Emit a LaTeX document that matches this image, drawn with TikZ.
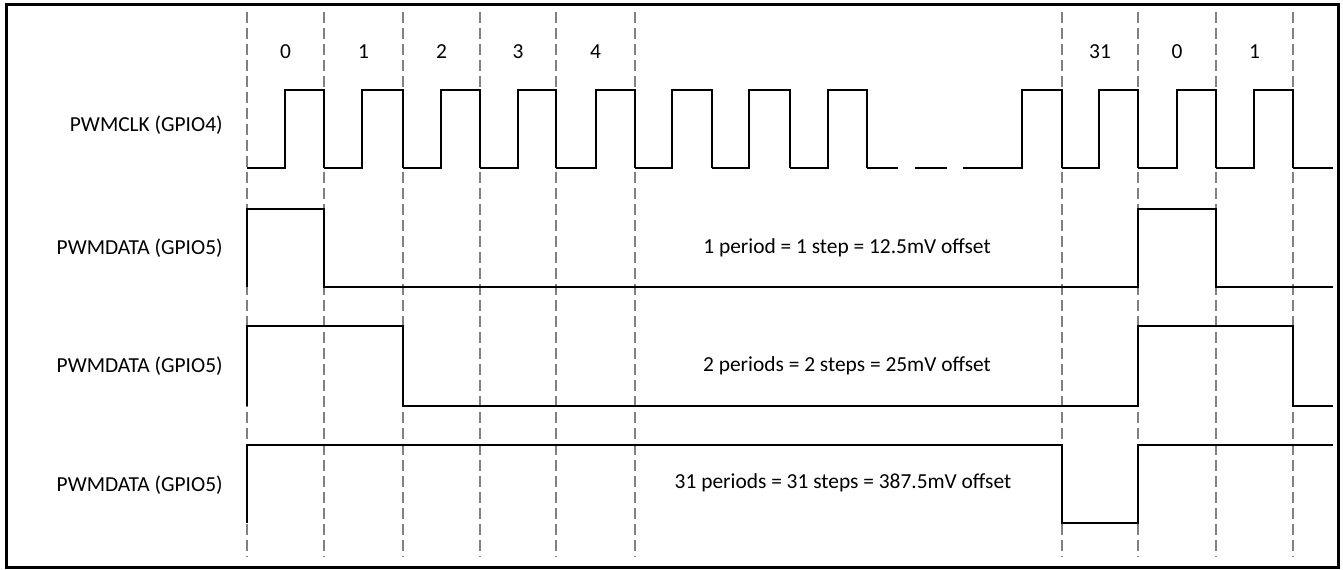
\documentclass[tikz,border=0pt]{standalone}
\usepackage{fontspec}
\setmainfont{Carlito}
\begin{document}
\begin{tikzpicture}[
        x=0.5pt, y=-0.5pt,
        font=\fontsize{10.7}{13}\selectfont,
        grid_line/.style={black!50, line width=0.7pt, dash pattern=on 5.3pt off 2.7pt},
        signal_line/.style={black, line width=1pt, line join=miter},
        sig_label/.style={anchor=east, inner sep=0pt},
        slot_label/.style={inner sep=0pt}
    ]
        \useasboundingbox (0,0) rectangle (1343,569);
        % Rahmen
        \draw[line width=1.5pt] (6.5,4.5) rectangle (1338,567);

        % Periodengrenzen
        \foreach \x in {247,324,403,480,556,635,1062,1138,1216,1293}
            \draw[grid_line] (\x,12) -- (\x,557);

        % Periodennummern
        \foreach \x/\n [count=\i] in {285.5/0,363.5/1,441.5/2,518/3,595.5/4,1100/31,1177/0,1254.5/1}
            \node[slot_label] (num\i) at (\x,52) {\n};

        % Signalnamen
        \node[sig_label] (clk) at (223,125) {PWMCLK (GPIO4)};
        \node[sig_label] (dataA) at (223,248) {PWMDATA (GPIO5)};
        \node[sig_label] (dataB) at (223,366) {PWMDATA (GPIO5)};
        \node[sig_label] (dataC) at (223,485) {PWMDATA (GPIO5)};

        % Takt
        \foreach \a/\b/\c in {247/285/324,324/362/403,403/441/480,480/518/556,556/596/635,
                635/672/712,712/749/790,790/828/867,963/1022/1062,1062/1099/1138,
                1138/1177/1216,1216/1254/1293}
            \draw[signal_line] (\a,168) -- (\b,168) -- (\b,90) -- (\c,90) -- (\c,168);
        \draw[signal_line] (867,168) -- (898,168);
        \draw[signal_line] (915,168) -- (947,168);
        \draw[signal_line] (1293,168) -- (1333,168);

        % Daten, 1 Periode
        \draw[signal_line] (247,287) -- (247,209) -- (324,209) -- (324,287) -- (1138,287)
            -- (1138,209) -- (1216,209) -- (1216,287) -- (1333,287);
        \node[slot_label] (txtA) at (847,248) {1 period = 1 step = 12.5mV offset};

        % Daten, 2 Perioden
        \draw[signal_line] (247,406) -- (247,326) -- (403,326) -- (403,406) -- (1138,406)
            -- (1138,326) -- (1293,326) -- (1293,406) -- (1333,406);
        \node[slot_label] (txtB) at (847,366) {2 periods = 2 steps = 25mV offset};

        % Daten, 31 Perioden
        \draw[signal_line] (247,523) -- (247,445) -- (1062,445) -- (1062,523) -- (1138,523)
            -- (1138,445) -- (1333,445);
        \node[slot_label] (txtC) at (843,483) {31 periods = 31 steps = 387.5mV offset};
    \end{tikzpicture}
\end{document}
